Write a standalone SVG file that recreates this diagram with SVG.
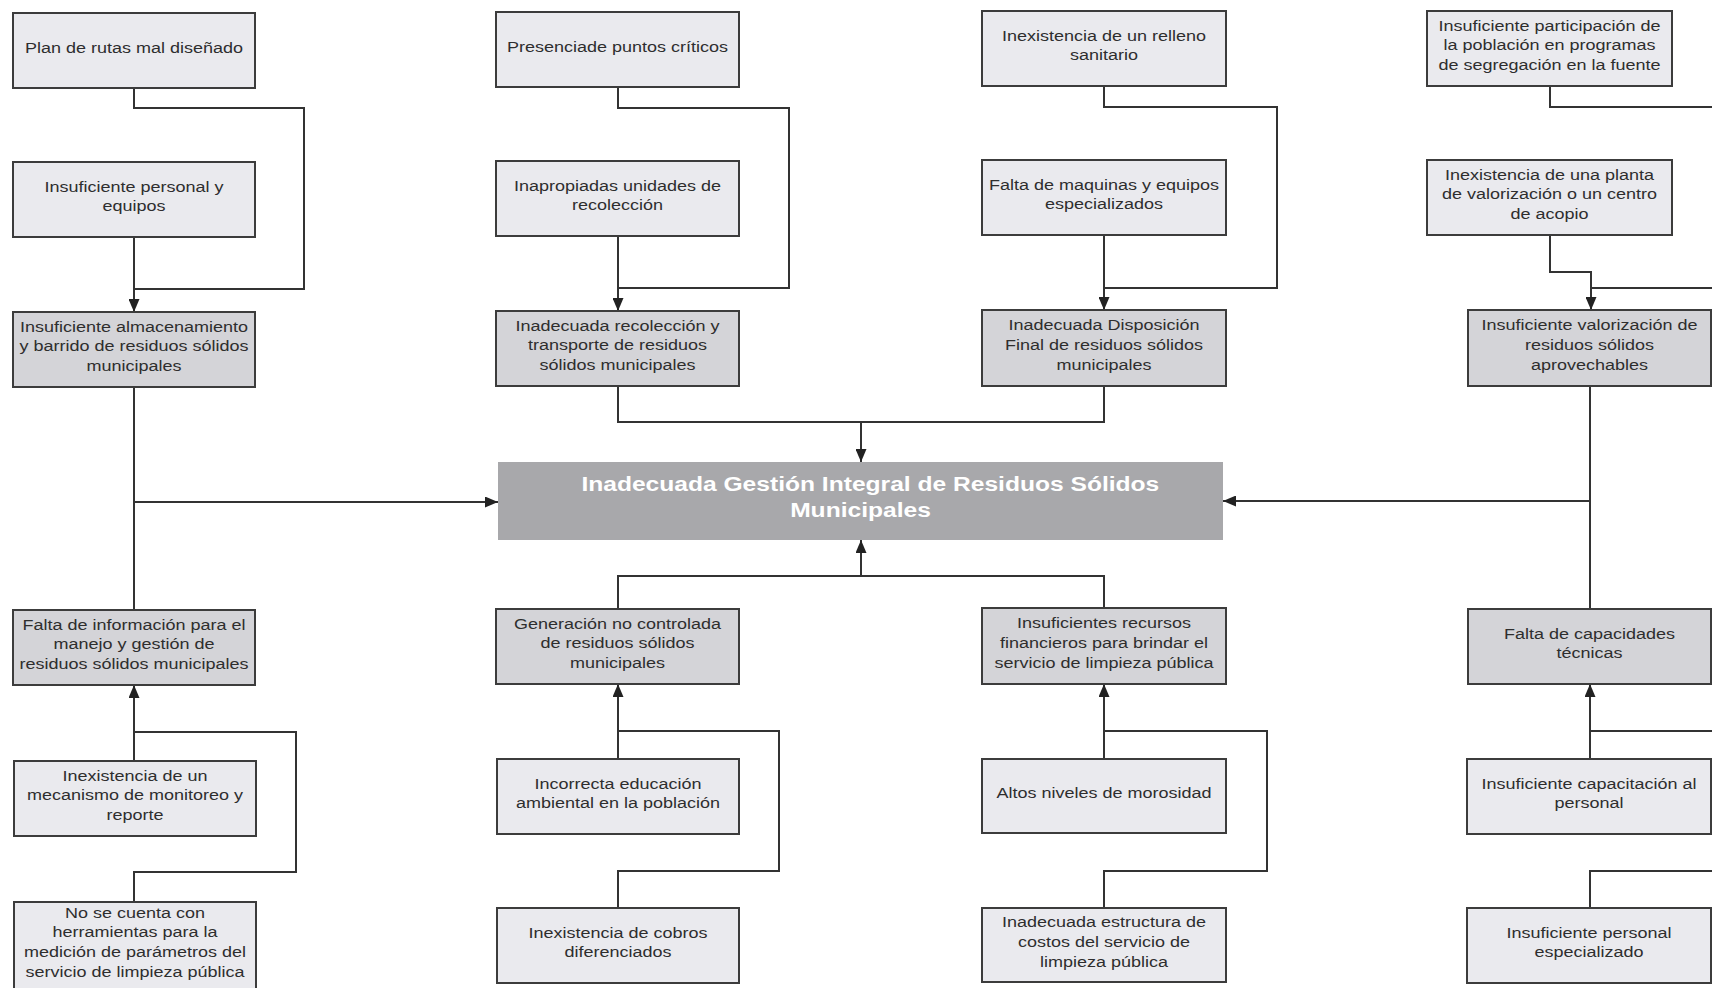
<svg xmlns="http://www.w3.org/2000/svg" width="1712" height="988" viewBox="0 0 1712 988">
<style>
.light{fill:#eaeaee;stroke:#3c3c3c;stroke-width:2}
.gray{fill:#d4d4d8;stroke:#3c3c3c;stroke-width:2}
.main{fill:#a8a8ab}
.t{font-family:"Liberation Sans",Arial,sans-serif;font-size:15px;fill:#2e2e2e;text-anchor:middle}
.mt{font-family:"Liberation Sans",Arial,sans-serif;font-size:20px;font-weight:bold;fill:#ffffff;text-anchor:middle}
.c{fill:none;stroke:#333;stroke-width:2}
</style>
<defs>
<marker id="ah" markerUnits="userSpaceOnUse" markerWidth="13" markerHeight="11" refX="13" refY="5.5" orient="auto">
<path d="M0,0 L13,5.5 L0,11 z" fill="#222"/>
</marker>
</defs>
<rect width="1712" height="988" fill="#ffffff"/>

<g id="connectors">
<path class="c" d="M134,88 V108 H304 V289 H134"/>
<path class="c" d="M134,237 V312" marker-end="url(#ah)"/>
<path class="c" d="M618,87 V108 H789 V288 H618"/>
<path class="c" d="M618,236 V311" marker-end="url(#ah)"/>
<path class="c" d="M1104,86 V107 H1277 V288 H1104"/>
<path class="c" d="M1104,235 V310" marker-end="url(#ah)"/>
<path class="c" d="M1550,86 V107 H1712"/>
<path class="c" d="M1550,235 V272 H1591 V310" marker-end="url(#ah)"/>
<path class="c" d="M1591,288 H1712"/>
<path class="c" d="M618,386 V422 H1104 V386"/>
<path class="c" d="M861,422 V462" marker-end="url(#ah)"/>
<path class="c" d="M618,609 V576 H1104 V609"/>
<path class="c" d="M861,576 V540" marker-end="url(#ah)"/>
<path class="c" d="M134,387 V610"/>
<path class="c" d="M134,502 H498" marker-end="url(#ah)"/>
<path class="c" d="M1590,386 V609"/>
<path class="c" d="M1590,501 H1223" marker-end="url(#ah)"/>
<path class="c" d="M134,761 V685" marker-end="url(#ah)"/>
<path class="c" d="M134,732 H296 V872 H134 V902"/>
<path class="c" d="M618,759 V684" marker-end="url(#ah)"/>
<path class="c" d="M618,731 H779 V871 H618 V908"/>
<path class="c" d="M1104,759 V684" marker-end="url(#ah)"/>
<path class="c" d="M1104,731 H1267 V871 H1104 V908"/>
<path class="c" d="M1590,759 V684" marker-end="url(#ah)"/>
<path class="c" d="M1590,731 H1712"/>
<path class="c" d="M1590,908 V871 H1712"/>
</g>

<g id="n-plan"><rect class="light" x="13" y="13" width="242" height="75"/>
<text class="t" transform="translate(134 52.5) scale(1.2 1)"><tspan x="0">Plan de rutas mal diseñado</tspan></text></g>

<g id="n-personal"><rect class="light" x="13" y="162" width="242" height="75"/>
<text class="t" transform="translate(134 191.5) scale(1.2 1)"><tspan x="0">Insuficiente personal y</tspan><tspan x="0" dy="20">equipos</tspan></text></g>

<g id="n-almacenamiento"><rect class="gray" x="13" y="312" width="242" height="75"/>
<text class="t" transform="translate(134 331.5) scale(1.2 1)"><tspan x="0">Insuficiente almacenamiento</tspan><tspan x="0" dy="20">y barrido de residuos sólidos</tspan><tspan x="0" dy="20">municipales</tspan></text></g>

<g id="n-presencia"><rect class="light" x="496" y="12" width="243" height="75"/>
<text class="t" transform="translate(617.5 51.5) scale(1.2 1)"><tspan x="0">Presenciade puntos críticos</tspan></text></g>

<g id="n-inapropiadas"><rect class="light" x="496" y="161" width="243" height="75"/>
<text class="t" transform="translate(617.5 190.5) scale(1.2 1)"><tspan x="0">Inapropiadas unidades de</tspan><tspan x="0" dy="20">recolección</tspan></text></g>

<g id="n-recoleccion"><rect class="gray" x="496" y="311" width="243" height="75"/>
<text class="t" transform="translate(617.5 330.5) scale(1.2 1)"><tspan x="0">Inadecuada recolección y</tspan><tspan x="0" dy="20">transporte de residuos</tspan><tspan x="0" dy="20">sólidos municipales</tspan></text></g>

<g id="n-relleno"><rect class="light" x="982" y="11" width="244" height="75"/>
<text class="t" transform="translate(1104 40.5) scale(1.2 1)"><tspan x="0">Inexistencia de un relleno</tspan><tspan x="0" dy="20">sanitario</tspan></text></g>

<g id="n-maquinas"><rect class="light" x="982" y="160" width="244" height="75"/>
<text class="t" transform="translate(1104 189.5) scale(1.2 1)"><tspan x="0">Falta de maquinas y equipos</tspan><tspan x="0" dy="20">especializados</tspan></text></g>

<g id="n-disposicion"><rect class="gray" x="982" y="310" width="244" height="76"/>
<text class="t" transform="translate(1104 330) scale(1.2 1)"><tspan x="0">Inadecuada Disposición</tspan><tspan x="0" dy="20">Final de residuos sólidos</tspan><tspan x="0" dy="20">municipales</tspan></text></g>

<g id="n-participacion"><rect class="light" x="1427" y="11" width="245" height="75"/>
<text class="t" transform="translate(1549.5 30.5) scale(1.2 1)"><tspan x="0">Insuficiente participación de</tspan><tspan x="0" dy="20">la población en programas</tspan><tspan x="0" dy="20">de segregación en la fuente</tspan></text></g>

<g id="n-planta"><rect class="light" x="1427" y="160" width="245" height="75"/>
<text class="t" transform="translate(1549.5 179.5) scale(1.2 1)"><tspan x="0">Inexistencia de una planta</tspan><tspan x="0" dy="20">de valorización o un centro</tspan><tspan x="0" dy="20">de acopio</tspan></text></g>

<g id="n-valorizacion"><rect class="gray" x="1468" y="310" width="243" height="76"/>
<text class="t" transform="translate(1589.5 330) scale(1.2 1)"><tspan x="0">Insuficiente valorización de</tspan><tspan x="0" dy="20">residuos sólidos</tspan><tspan x="0" dy="20">aprovechables</tspan></text></g>

<g id="n-main"><rect class="main" x="498" y="462" width="725" height="78"/>
<text class="mt" transform="translate(860.5 490.5) scale(1.23 1)"><tspan x="8">Inadecuada Gestión Integral de Residuos Sólidos</tspan><tspan x="0" dy="27">Municipales</tspan></text></g>

<g id="n-informacion"><rect class="gray" x="13" y="610" width="242" height="75"/>
<text class="t" transform="translate(134 629.5) scale(1.2 1)"><tspan x="0">Falta de información para el</tspan><tspan x="0" dy="20">manejo y gestión de</tspan><tspan x="0" dy="20">residuos sólidos municipales</tspan></text></g>

<g id="n-generacion"><rect class="gray" x="496" y="609" width="243" height="75"/>
<text class="t" transform="translate(617.5 628.5) scale(1.2 1)"><tspan x="0">Generación no controlada</tspan><tspan x="0" dy="20">de residuos sólidos</tspan><tspan x="0" dy="20">municipales</tspan></text></g>

<g id="n-recursos"><rect class="gray" x="982" y="608" width="244" height="76"/>
<text class="t" transform="translate(1104 628) scale(1.2 1)"><tspan x="0">Insuficientes recursos</tspan><tspan x="0" dy="20">financieros para brindar el</tspan><tspan x="0" dy="20">servicio de limpieza pública</tspan></text></g>

<g id="n-capacidades"><rect class="gray" x="1468" y="609" width="243" height="75"/>
<text class="t" transform="translate(1589.5 638.5) scale(1.2 1)"><tspan x="0">Falta de capacidades</tspan><tspan x="0" dy="20">técnicas</tspan></text></g>

<g id="n-monitoreo"><rect class="light" x="14" y="761" width="242" height="75"/>
<text class="t" transform="translate(135 780.5) scale(1.2 1)"><tspan x="0">Inexistencia de un</tspan><tspan x="0" dy="20">mecanismo de monitoreo y</tspan><tspan x="0" dy="20">reporte</tspan></text></g>

<g id="n-herramientas"><rect class="light" x="14" y="902" width="242" height="88"/>
<text class="t" transform="translate(135 917.5) scale(1.2 1)"><tspan x="0">No se cuenta con</tspan><tspan x="0" dy="20">herramientas para la</tspan><tspan x="0" dy="20">medición de parámetros del</tspan><tspan x="0" dy="20">servicio de limpieza pública</tspan></text></g>

<g id="n-educacion"><rect class="light" x="497" y="759" width="242" height="75"/>
<text class="t" transform="translate(618 788.5) scale(1.2 1)"><tspan x="0">Incorrecta educación</tspan><tspan x="0" dy="20">ambiental en la población</tspan></text></g>

<g id="n-cobros"><rect class="light" x="497" y="908" width="242" height="75"/>
<text class="t" transform="translate(618 937.5) scale(1.2 1)"><tspan x="0">Inexistencia de cobros</tspan><tspan x="0" dy="20">diferenciados</tspan></text></g>

<g id="n-morosidad"><rect class="light" x="982" y="759" width="244" height="74"/>
<text class="t" transform="translate(1104 798) scale(1.2 1)"><tspan x="0">Altos niveles de morosidad</tspan></text></g>

<g id="n-costos"><rect class="light" x="982" y="908" width="244" height="74"/>
<text class="t" transform="translate(1104 927) scale(1.2 1)"><tspan x="0">Inadecuada estructura de</tspan><tspan x="0" dy="20">costos del servicio de</tspan><tspan x="0" dy="20">limpieza pública</tspan></text></g>

<g id="n-capacitacion"><rect class="light" x="1467" y="759" width="244" height="75"/>
<text class="t" transform="translate(1589 788.5) scale(1.2 1)"><tspan x="0">Insuficiente capacitación al</tspan><tspan x="0" dy="20">personal</tspan></text></g>

<g id="n-especializado"><rect class="light" x="1467" y="908" width="244" height="75"/>
<text class="t" transform="translate(1589 937.5) scale(1.2 1)"><tspan x="0">Insuficiente personal</tspan><tspan x="0" dy="20">especializado</tspan></text></g>
</svg>
